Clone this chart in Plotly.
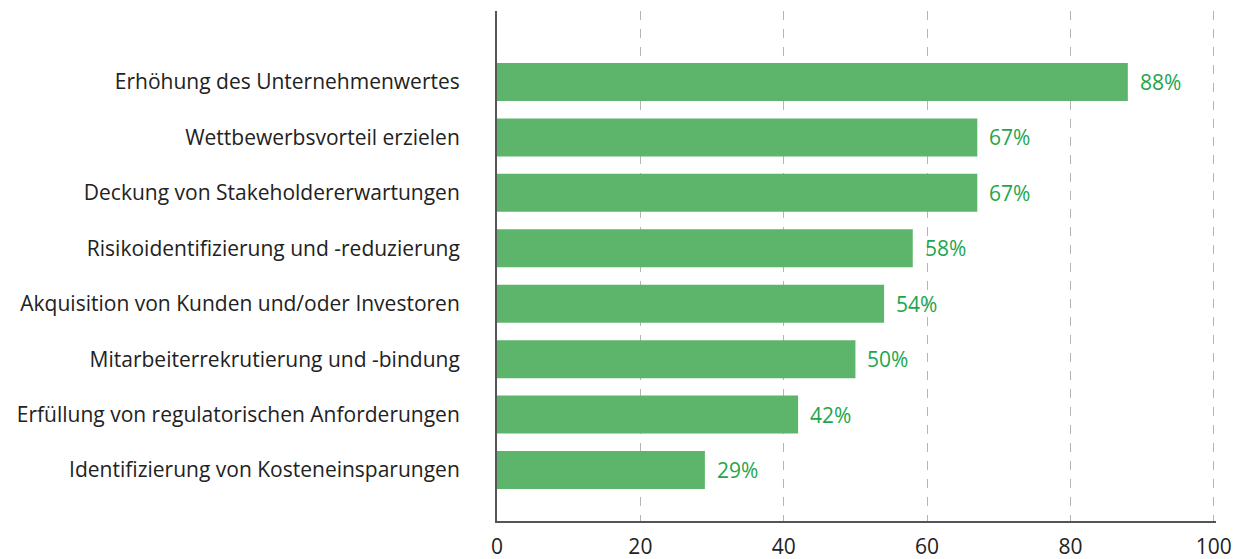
import plotly.graph_objects as go

categories = [
    "Identifizierung von Kosteneinsparungen",
    "Erfüllung von regulatorischen Anforderungen",
    "Mitarbeiterrekrutierung und -bindung",
    "Akquisition von Kunden und/oder Investoren",
    "Risikoidentifizierung und -reduzierung",
    "Deckung von Stakeholdererwartungen",
    "Wettbewerbsvorteil erzielen",
    "Erhöhung des Unternehmenwertes",
]
values = [29, 42, 50, 54, 58, 67, 67, 88]
x_ticks = [0, 20, 40, 60, 80, 100]

FONT = "'Open Sans', Lato, sans-serif"
GREEN_BAR = "#5cb56b"
GREEN_TXT = "#1ea64d"

fig = go.Figure(
    go.Bar(
        y=categories,
        x=values,
        orientation="h",
        marker=dict(color=GREEN_BAR, line=dict(width=0)),
        hoverinfo="skip",
    )
)

for cat, v in zip(categories, values):
    fig.add_annotation(
        x=v, y=cat, text=f"{v}%", showarrow=False,
        xanchor="left", yanchor="middle", xshift=10,
        font=dict(color=GREEN_TXT, size=21, family=FONT),
    )

# page body has an 8px margin; compensate so marks land where intended
fig.update_layout(
    width=1241,
    height=551,
    margin=dict(l=489, r=33, t=3, b=38, pad=0),
    plot_bgcolor="white",
    paper_bgcolor="white",
    bargap=0.314,
    showlegend=False,
    font=dict(family=FONT, color="#222222"),
)

fig.update_xaxes(
    range=[0, 100.3],
    tickvals=x_ticks,
    showgrid=True,
    gridcolor="#b5b5b5",
    griddash="dash",
    gridwidth=1,
    zeroline=False,
    showline=True,
    linecolor="#555555",
    linewidth=2,
    ticks="",
    tickfont=dict(size=21, color="#222222"),
    ticklabelstandoff=6,
    automargin=False,
)

fig.update_yaxes(
    type="category",
    categoryorder="array",
    categoryarray=categories,
    range=[-0.92, 8.281],
    showgrid=False,
    zeroline=False,
    showline=True,
    linecolor="#555555",
    linewidth=2,
    ticks="",
    tickfont=dict(size=21, color="#222222"),
    ticklabelstandoff=31,
    automargin=False,
)

fig.write_html("out.html")
